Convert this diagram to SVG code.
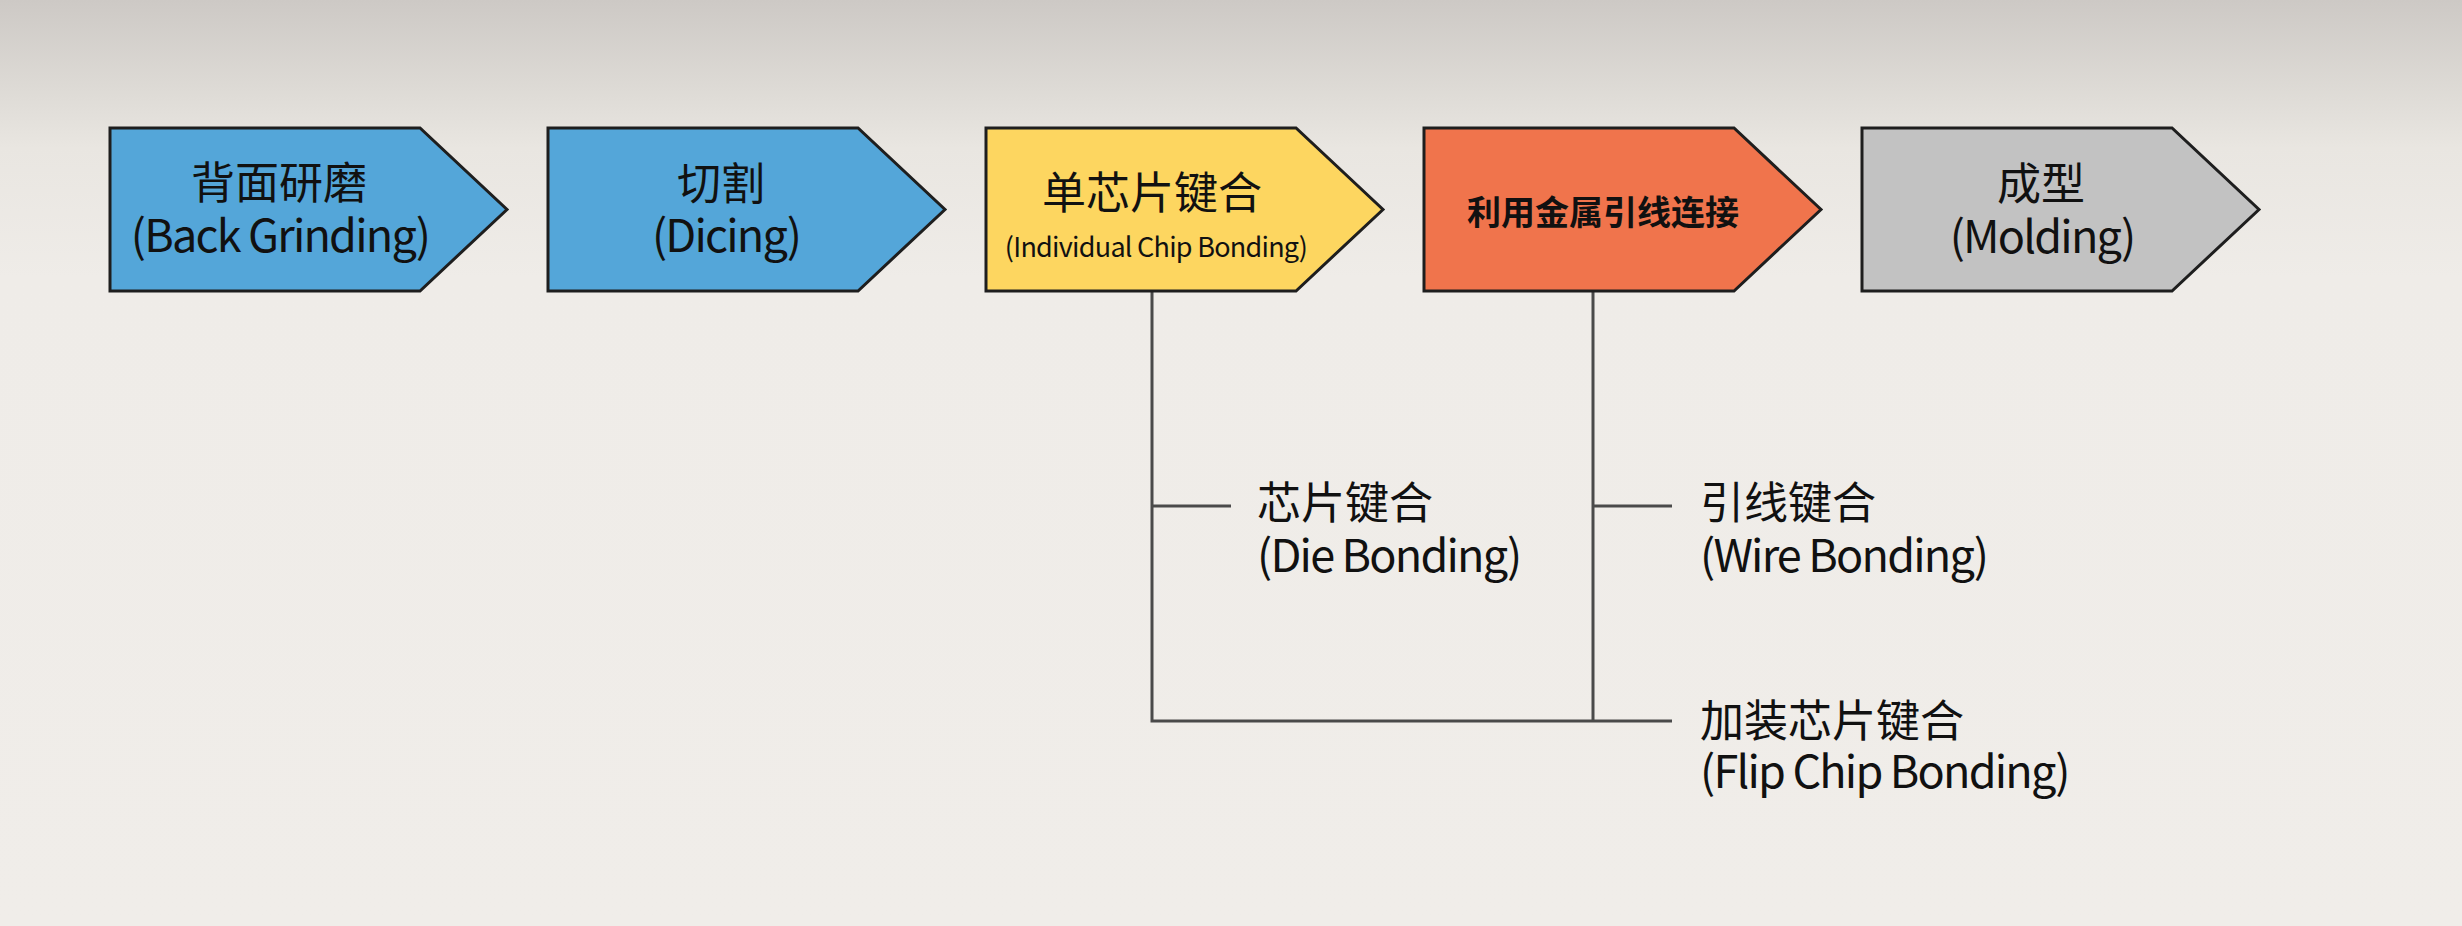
<svg xmlns="http://www.w3.org/2000/svg" width="2462" height="926" viewBox="0 0 2462 926">
  <defs>
    <linearGradient id="bg" x1="0" y1="0" x2="0" y2="1">
      <stop offset="0" stop-color="#cdc9c5"/>
      <stop offset="0.1" stop-color="#dedbd6"/>
      <stop offset="0.16" stop-color="#e9e6e1"/>
      <stop offset="0.3" stop-color="#efece8"/>
      <stop offset="1" stop-color="#f0ede9"/>
    </linearGradient>
    <style>
      .step { stroke: #1e1e1e; stroke-width: 3; stroke-linejoin: miter; }
      .blue { fill: #54a6d9; }
      .yellow { fill: #fdd660; }
      .orange { fill: #f0744c; }
      .gray { fill: #c2c2c2; }
      text { font-family: "Noto Sans CJK SC", "Noto Sans", sans-serif; fill: #111; }
      .cn { font-size: 44px; }
      .en { font-size: 45px; letter-spacing: -1.8px; }
      .small { font-size: 27px; letter-spacing: -0.75px; }
      .bold { font-size: 34px; font-weight: 700; }
      .mid { text-anchor: middle; }
      .conn { stroke: #4a4a4a; stroke-width: 3; fill: none; }
    </style>
  </defs>
  <rect x="0" y="0" width="2462" height="926" fill="url(#bg)"/>

  <g id="connectors">
    <path class="conn" d="M1152 291 V721 H1672"/>
    <path class="conn" d="M1593 291 V721"/>
    <path class="conn" d="M1152 506 H1231"/>
    <path class="conn" d="M1593 506 H1672"/>
  </g>

  <g id="node-back-grinding">
    <polygon class="step blue" points="110,128 420,128 507,209.5 420,291 110,291"/>
    <text class="cn mid" x="279" y="199">背面研磨</text>
    <text class="en mid" x="280" y="252">(Back Grinding)</text>
  </g>
  <g id="node-dicing">
    <polygon class="step blue" points="548,128 858,128 945,209.5 858,291 548,291"/>
    <text class="cn mid" x="721" y="200">切割</text>
    <text class="en mid" x="726" y="252">(Dicing)</text>
  </g>
  <g id="node-individual-chip-bonding">
    <polygon class="step yellow" points="986,128 1296,128 1383,209.5 1296,291 986,291"/>
    <text class="cn mid" x="1152" y="209">单芯片键合</text>
    <text class="small mid" x="1156" y="257">(Individual Chip Bonding)</text>
  </g>
  <g id="node-wire-connection">
    <polygon class="step orange" points="1424,128 1734,128 1821,209.5 1734,291 1424,291"/>
    <text class="bold mid" x="1603" y="225">利用金属引线连接</text>
  </g>
  <g id="node-molding">
    <polygon class="step gray" points="1862,128 2172,128 2259,209.5 2172,291 1862,291"/>
    <text class="cn mid" x="2041" y="200">成型</text>
    <text class="en mid" x="2042" y="253">(Molding)</text>
  </g>

  <g id="node-die-bonding">
    <text class="cn" x="1257" y="519">芯片键合</text>
    <text class="en" x="1257" y="572">(Die Bonding)</text>
  </g>
  <g id="node-wire-bonding">
    <text class="cn" x="1700" y="519">引线键合</text>
    <text class="en" x="1700" y="572">(Wire Bonding)</text>
  </g>
  <g id="node-flip-chip-bonding">
    <text class="cn" x="1700" y="737">加装芯片键合</text>
    <text class="en" x="1700" y="788">(Flip Chip Bonding)</text>
  </g>
</svg>
